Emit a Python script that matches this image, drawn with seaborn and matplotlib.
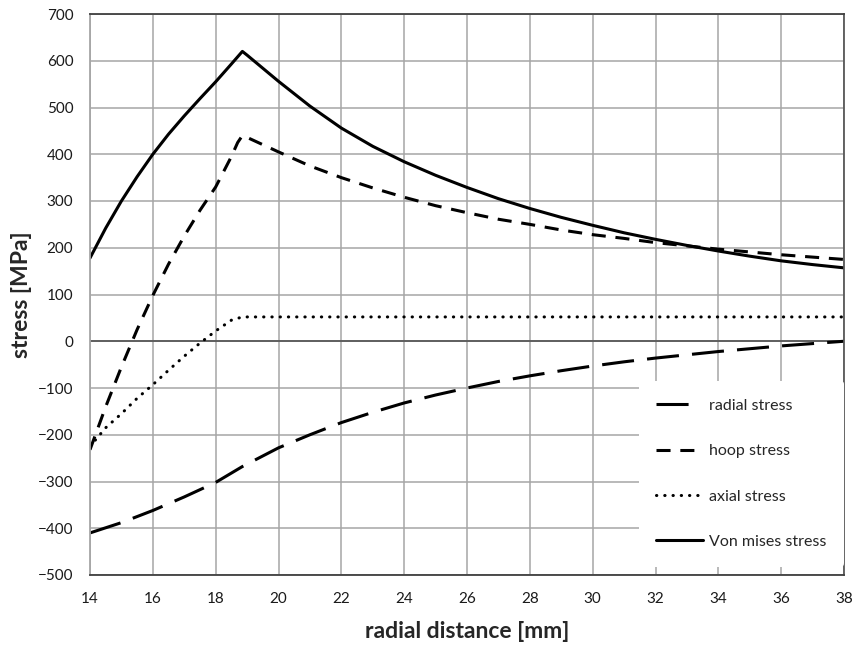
import matplotlib
matplotlib.use("Agg")
import matplotlib.pyplot as plt
import seaborn as sns
import pandas as pd

# Radial position [mm] and stress components [MPa] through the wall
radial_x = [14, 15, 16, 17, 18, 18.85, 20, 21, 22, 23, 24, 25, 26, 27, 28,
            29, 30, 31, 32, 33, 34, 35, 36, 37, 38]
radial_stress = [-410, -388, -362, -333, -302, -268, -228, -200, -174, -152,
                 -132, -115, -100, -86, -74, -63, -53, -44, -36, -29, -22,
                 -16, -10, -5, 0]

hoop_x = [14, 14.5, 15, 15.5, 16, 16.5, 17, 17.5, 18, 18.5, 18.7, 18.85, 19,
          20, 21, 22, 23, 24, 25, 26, 27, 28, 29, 30, 31, 32, 33, 34, 35, 36,
          37, 38]
hoop_stress = [-232, -140, -55, 25, 98, 165, 225, 280, 330, 395, 425, 440, 436,
               405, 375, 350, 328, 308, 290, 275, 261, 250, 238, 228, 220, 211,
               204, 197, 191, 185, 180, 175]

axial_x = [14, 14.5, 15, 15.5, 16, 16.5, 17, 17.5, 18, 18.5, 18.85, 20, 24,
           28, 32, 36, 38]
axial_stress = [-225, -185, -155, -122, -93, -62, -32, -4, 22, 45, 52, 52, 52,
                52, 52, 52, 52]

mises_x = [14, 14.5, 15, 15.5, 16, 16.5, 17, 17.5, 18, 18.5, 18.85, 19, 20,
           21, 22, 23, 24, 25, 26, 27, 28, 29, 30, 31, 32, 33, 34, 35, 36, 37,
           38]
mises_stress = [178, 242, 300, 352, 400, 443, 482, 519, 555, 593, 620, 612,
                556, 503, 456, 417, 384, 355, 329, 305, 284, 265, 248, 232,
                218, 205, 193, 182, 172, 164, 157]

labels = ["radial stress", "hoop stress", "axial stress", "Von mises stress"]

x_ticks = list(range(14, 39, 2))
y_ticks = list(range(-500, 701, 100))

sns.set_style("white")
plt.rcParams["font.family"] = ["Lato", "DejaVu Sans"]

fig = plt.figure(figsize=(8.55, 6.45), dpi=100)
ax = fig.add_axes([90 / 855, 70 / 645, 754 / 855, 561 / 645])

lw = 2.2
series = [
    (radial_x, radial_stress, labels[0], dict(dashes=(10.5, 4.3))),
    (hoop_x, hoop_stress, labels[1], dict(dashes=(4.6, 3.2))),
    (axial_x, axial_stress, labels[2], dict(dashes=(0.1, 2.6), dash_capstyle="round")),
    (mises_x, mises_stress, labels[3], dict()),
]
for xs, ys, name, style in series:
    df = pd.DataFrame({"r": xs, "s": ys})
    sns.lineplot(data=df, x="r", y="s", ax=ax, sort=False, color="black",
                 linewidth=lw, label=name, estimator=None)
    line = ax.lines[-1]
    line.set_solid_joinstyle("round")
    if "dashes" in style:
        line.set_dashes(style["dashes"])
    if "dash_capstyle" in style:
        line.set_dash_capstyle(style["dash_capstyle"])

ax.set_xlim(14, 38)
ax.set_ylim(-500, 700)
ax.set_xticks(x_ticks)
ax.set_yticks(y_ticks)
ax.grid(True, color="#a6a6a6", linewidth=1.1)
ax.set_axisbelow(True)
ax.axhline(0, color="#595959", linewidth=1.3, zorder=1.5)

for side, col in [("left", "#a6a6a6"), ("bottom", "#404040"),
                  ("top", "#404040"), ("right", "#595959")]:
    ax.spines[side].set_visible(True)
    ax.spines[side].set_color(col)
    ax.spines[side].set_linewidth(1.3)

ax.tick_params(axis="both", length=0, labelsize=11, colors="#1a1a1a")
ax.tick_params(axis="y", pad=12)
ax.tick_params(axis="x", pad=12)

ax.set_xlabel("radial distance [mm]", fontsize=16.5, fontweight="bold", labelpad=11)
ax.set_ylabel("stress [MPa]", fontsize=16.5, fontweight="bold", labelpad=4)

leg = ax.legend(loc="lower right", bbox_to_anchor=(1.0, 0.015), frameon=True,
                facecolor="white", edgecolor="none", framealpha=1.0,
                fontsize=11.5, handlelength=2.9, labelspacing=1.95,
                borderpad=1.1, handletextpad=0.4, borderaxespad=0.0)
leg_lines = leg.get_lines()
for h in leg_lines:
    h.set_linewidth(lw)
# single long dash for the radial entry
leg_lines[0].set_dashes((10.5, 8))

fig.savefig("out.png", dpi=100, facecolor="white")
